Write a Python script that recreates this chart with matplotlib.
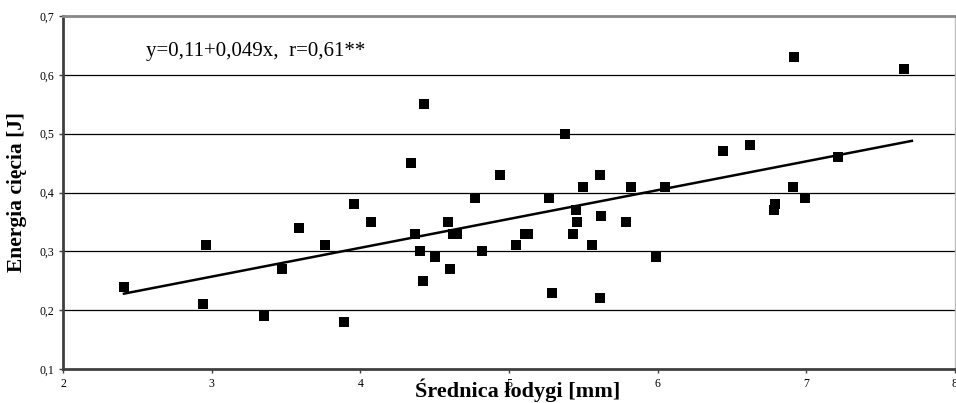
import numpy as np
import matplotlib.pyplot as plt
from matplotlib.ticker import FuncFormatter

plt.rcParams['font.family'] = ['Liberation Serif', 'DejaVu Serif']

# stem diameter [mm] and cutting energy [J]
diameter = [2.41, 2.94, 2.96, 3.35, 3.47, 3.59, 3.76, 3.89, 3.96, 4.07,
            4.34, 4.37, 4.40, 4.42, 4.43, 4.50, 4.59, 4.60, 4.62, 4.65,
            4.77, 4.82, 4.94, 5.05, 5.11, 5.13, 5.27, 5.29, 5.38, 5.43,
            5.45, 5.46, 5.50, 5.56, 5.61, 5.62, 5.61, 5.79, 5.82, 5.99,
            6.05, 6.44, 6.62, 6.78, 6.79, 6.91, 6.92, 6.99, 7.21, 7.66]
energy = [0.24, 0.21, 0.31, 0.19, 0.27, 0.34, 0.31, 0.18, 0.38, 0.35,
          0.45, 0.33, 0.30, 0.25, 0.55, 0.29, 0.35, 0.27, 0.33, 0.33,
          0.39, 0.30, 0.43, 0.31, 0.33, 0.33, 0.39, 0.23, 0.50, 0.33,
          0.37, 0.35, 0.41, 0.31, 0.43, 0.36, 0.22, 0.35, 0.41, 0.29,
          0.41, 0.47, 0.48, 0.37, 0.38, 0.41, 0.63, 0.39, 0.46, 0.61]

intercept = 0.11
slope = 0.049
eq_text = 'y=0,11+0,049x,  r=0,61**'

fig = plt.figure(figsize=(9.56, 4.03), dpi=100)
ax = fig.add_axes([63 / 956, 1 - 369 / 403, 892 / 956, 353 / 403])

ax.set_xlim(2, 8)
ax.set_ylim(0.1, 0.7)
ax.set_xticks(np.arange(2, 9, 1))
ax.set_yticks(np.arange(0.1, 0.71, 0.1))
ax.yaxis.set_major_formatter(FuncFormatter(lambda v, p: f'{v:.1f}'.replace('.', ',')))
ax.xaxis.set_major_formatter(FuncFormatter(lambda v, p: f'{v:.0f}'))
ax.tick_params(labelsize=8.5, length=3, width=1, direction='out', color='#404040')

for y in [0.2, 0.3, 0.4, 0.5, 0.6]:
    ax.axhline(y, color='black', lw=0.9, zorder=1)

ax.scatter(diameter, energy, marker='s', s=52, color='black', zorder=3, linewidths=0)

xs = np.array([min(diameter), max(diameter) + 0.05])
ax.plot(xs, intercept + slope * xs, color='black', lw=1.8, zorder=2)

ax.text(2.56, 0.64, eq_text, fontsize=15, va='center', ha='left')

ax.spines['left'].set_color('#404040')
ax.spines['left'].set_linewidth(2)
ax.spines['bottom'].set_color('#404040')
ax.spines['bottom'].set_linewidth(2)
ax.spines['top'].set_color('#888888')
ax.spines['top'].set_linewidth(2)
ax.spines['right'].set_color('#bbbbbb')
ax.spines['right'].set_linewidth(1)

ax.set_xlabel('Średnica łodygi [mm]', fontsize=16, fontweight='bold')
ax.xaxis.set_label_coords(0.51, -0.028)
ax.set_ylabel('Energia cięcia [J]', fontsize=15.5, fontweight='bold')
ax.yaxis.set_label_coords(-0.040, 0.5)

fig.savefig('out.png', dpi=100)
